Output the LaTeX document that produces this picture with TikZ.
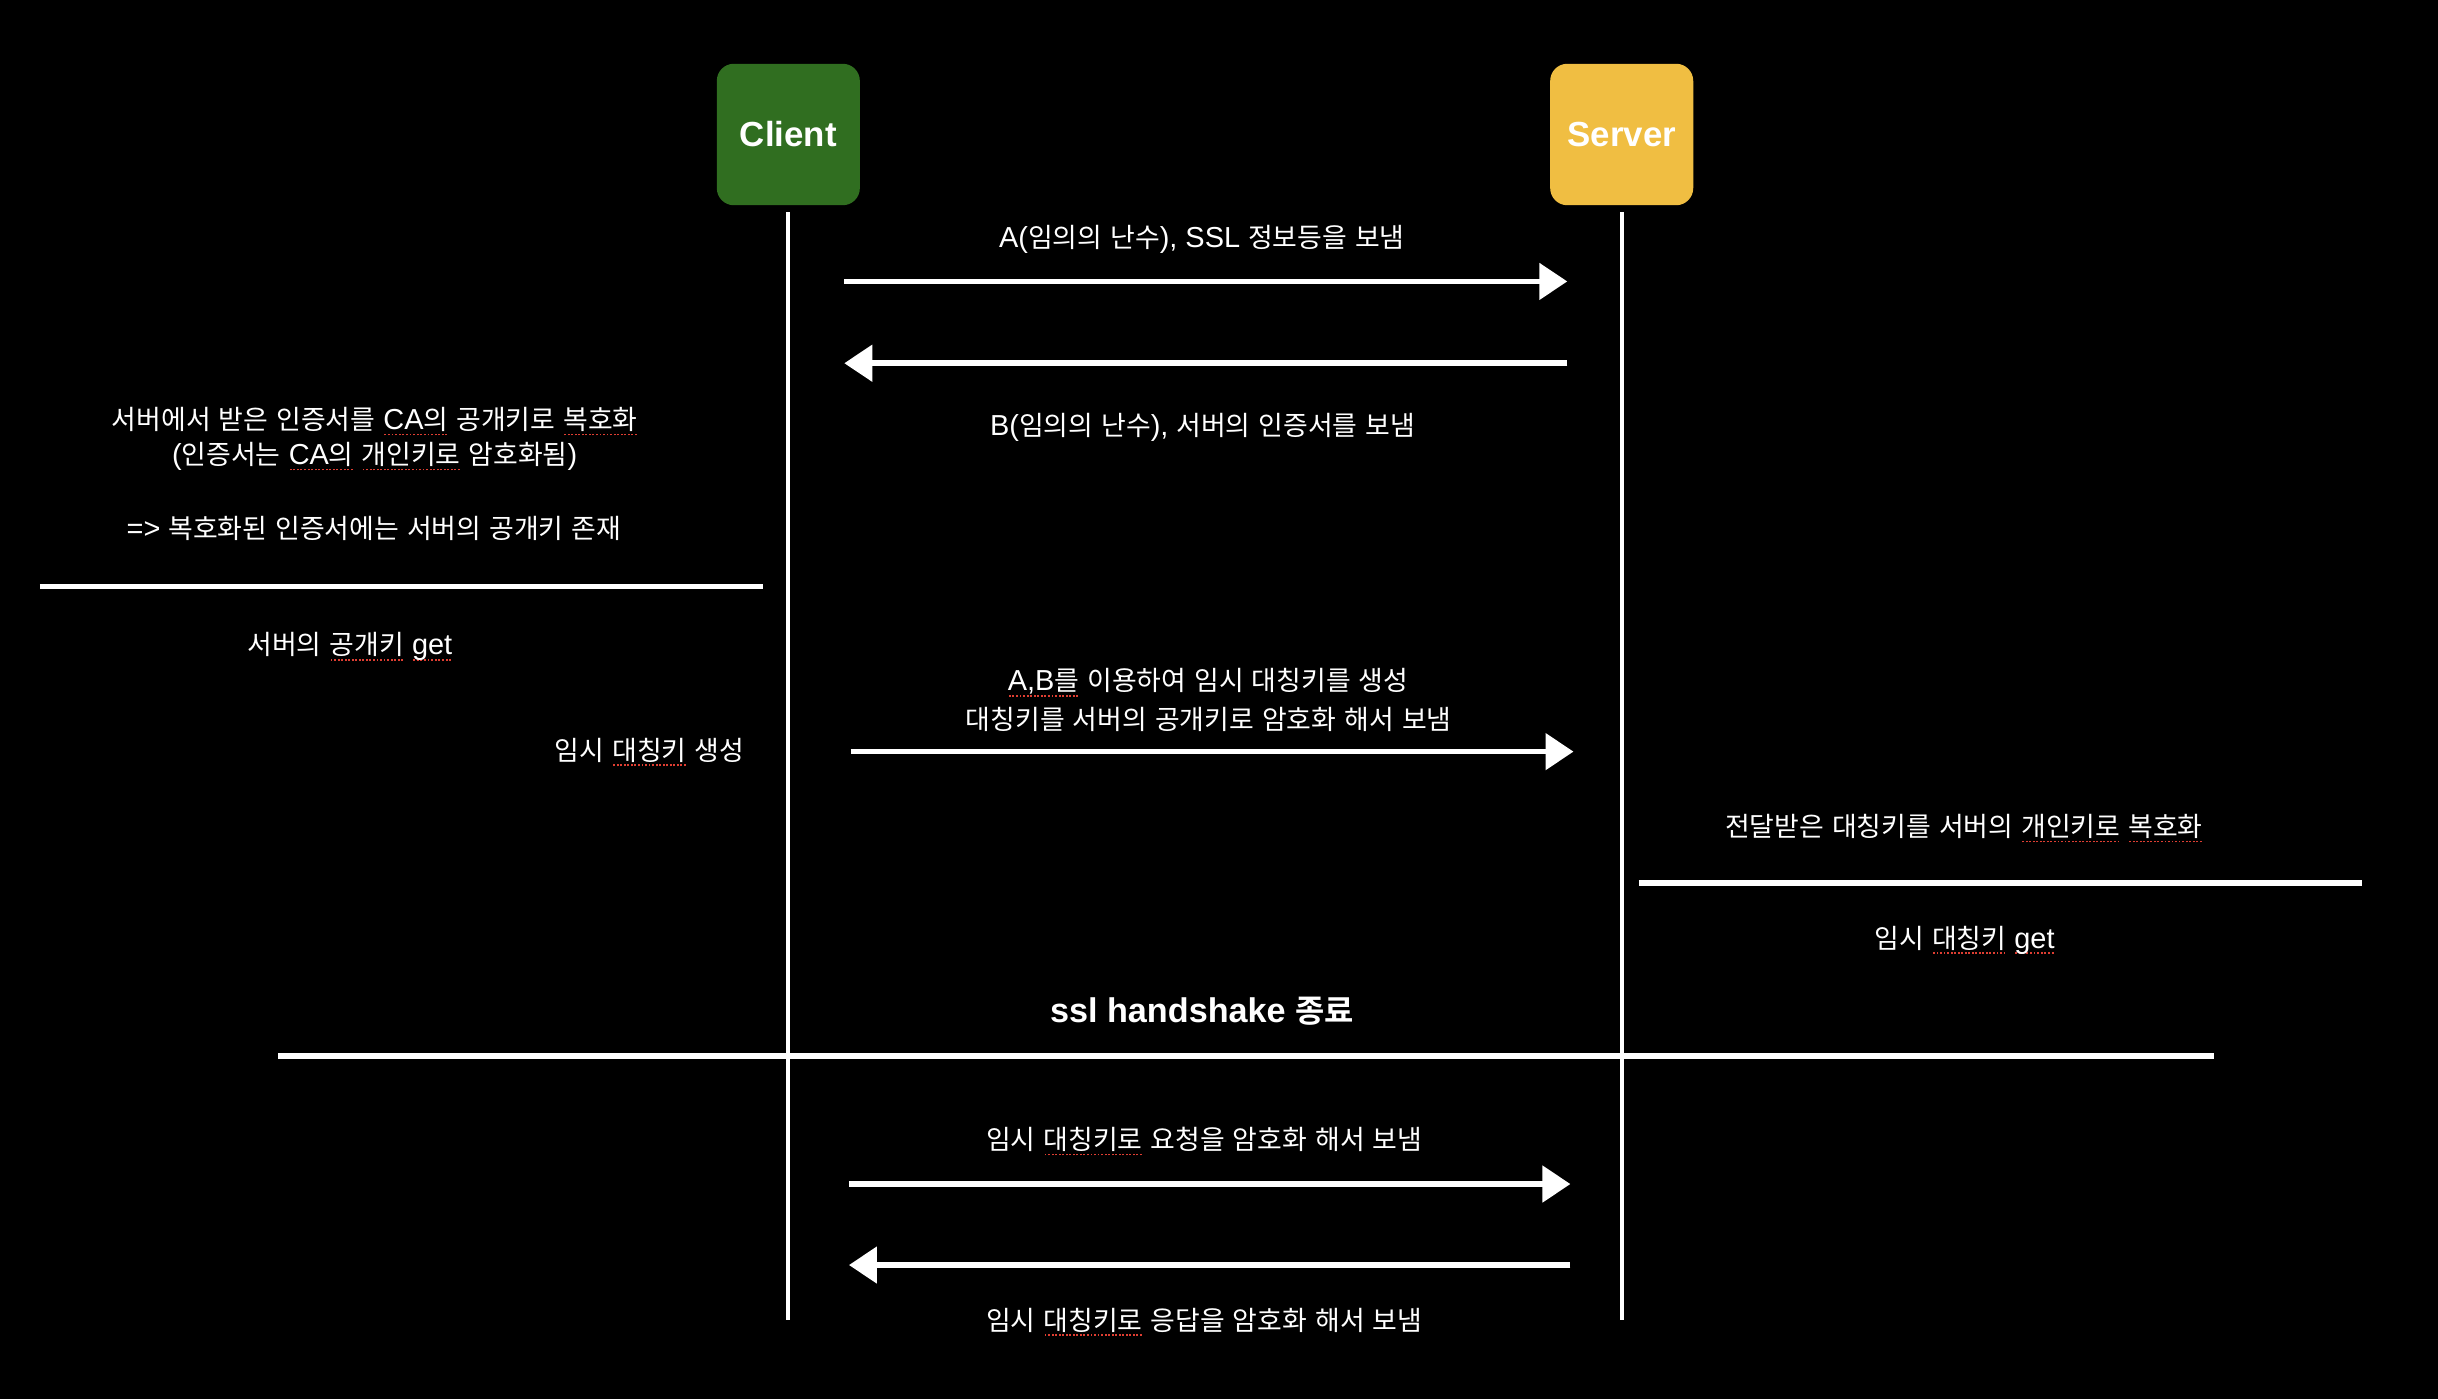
\documentclass[tikz,border=0pt]{standalone}
\usepackage{fontspec}
\setmainfont{Liberation Sans}
\newfontfamily\krfont[Scale=0.93,BoldFont={Noto Sans CJK KR Bold}]{Noto Sans CJK KR}
\newfontfamily\latfont{Liberation Sans}
\usetikzlibrary{arrows.meta}
\definecolor{clientgreen}{RGB}{48,110,32}
\definecolor{serveryellow}{RGB}{240,190,66}
\definecolor{sqred}{RGB}{222,62,50}
% Hangul syllables in Noto Sans CJK KR, everything else in Liberation Sans
\XeTeXinterchartokenstate=1
\newcount\hgc
\hgc="AC00
\loop
  \XeTeXcharclass\hgc=7
  \ifnum\hgc<"D7A3 \advance\hgc by 1
\repeat
\XeTeXinterchartoks 0 7 = {\krfont}
\XeTeXinterchartoks 4095 7 = {\krfont}
\XeTeXinterchartoks 7 0 = {\latfont}
\XeTeXinterchartoks 7 4095 = {\latfont}
% red dotted spell-check underline
\newcommand\sqg[1]{\leavevmode\setbox0=\hbox{#1}\rlap{\raisebox{-1.8pt}[0pt][0pt]{\color{sqred}\hbox to \wd0{\xleaders\hbox to 1.1pt{\hss\rule{0.6pt}{0.6pt}\hss}\hfill}}}\box0\relax}
\begin{document}
\begin{tikzpicture}[x=0.5pt,y=-0.5pt,
  lbl/.style={text=white, font=\fontsize{9.3pt}{11pt}\selectfont, inner sep=0pt},
  boldlbl/.style={text=white, font=\fontsize{11pt}{13pt}\selectfont\bfseries, inner sep=0pt},
  actor/.style={rounded corners=5.5pt, minimum width=46pt, minimum height=45.5pt, text=white,
    font=\fontsize{11.2pt}{13pt}\selectfont\bfseries, inner sep=0pt},
  life/.style={white, line width=1.3pt},
  sepline/.style={white, line width=1.8pt},
  msg/.style={white, line width=1.8pt, -{Triangle[length=9pt,width=11.5pt]}}]
\fill[black] (0,0) rectangle (1568,900);
\useasboundingbox (0,0) rectangle (1568,900);

% actors and lifelines
\node[actor, fill=clientgreen] (client) at (507,86.5) {Client};
\node[actor, fill=serveryellow] (server) at (1043,86.5) {Server};
\coordinate (cbot) at (507,849);
\coordinate (sbot) at (1043,849);

% separators
\coordinate (s1a) at (25.6,377.3);  \coordinate (s1b) at (491,377.3);
\coordinate (s2a) at (1054,567.7);  \coordinate (s2b) at (1519,567.7);
\coordinate (s3a) at (179,679);     \coordinate (s3b) at (1424,679);
\draw[sepline] (s1a) -- (s1b);
\draw[sepline] (s2a) -- (s2b);
\draw[sepline] (s3a) -- (s3b);

\draw[life] ([yshift=-2pt]client.south) -- (cbot);
\draw[life] ([yshift=-2pt]server.south) -- (sbot);

% messages
\coordinate (m1a) at (543,181);    \coordinate (m1b) at (1008,181);
\coordinate (m2a) at (1008,233.6); \coordinate (m2b) at (543,233.6);
\coordinate (m3a) at (547,483.4);  \coordinate (m3b) at (1012,483.4);
\coordinate (m4a) at (546,761.5);  \coordinate (m4b) at (1010,761.5);
\coordinate (m5a) at (1010,813.6); \coordinate (m5b) at (546,813.6);
\draw[msg] (m1a) -- (m1b);
\draw[msg] (m2a) -- (m2b);
\draw[msg] (m3a) -- (m3b);
\draw[msg] (m4a) -- (m4b);
\draw[msg] (m5a) -- (m5b);

% message labels
\node[lbl] (l1) at (773,153.8) {A(임의의 난수), SSL 정보등을 보냄};
\node[lbl] (l2) at (773.5,275) {B(임의의 난수), 서버의 인증서를 보냄};
\node[lbl] (l3a) at (777,438.4) {\sqg{A,B를} 이용하여 임시 대칭키를 생성};
\node[lbl] (l3b) at (777.4,463) {대칭키를 서버의 공개키로 암호화 해서 보냄};
\node[lbl] (l4) at (774.5,733) {임시 \sqg{대칭키로} 요청을 암호화 해서 보냄};
\node[lbl] (l5) at (774.5,849) {임시 \sqg{대칭키로} 응답을 암호화 해서 보냄};

% client side notes
\node[lbl] (c1) at (241,270) {서버에서 받은 인증서를 \sqg{CA의} 공개키로 \sqg{복호화}};
\node[lbl] (c2) at (241,293.7) {(인증서는 \sqg{CA의} \sqg{개인키로} 암호화됨)};
\node[lbl] (c3) at (240.5,339.6) {=> 복호화된 인증서에는 서버의 공개키 존재};
\node[lbl] (c4) at (225,416) {서버의 \sqg{공개키} \sqg{get}};
\node[lbl, anchor=east] (c5) at (479,482.8) {임시 \sqg{대칭키} 생성};

% server side notes
\node[lbl] (r1) at (1263,531.7) {전달받은 대칭키를 서버의 \sqg{개인키로} \sqg{복호화}};
\node[lbl] (r2) at (1263.5,604.6) {임시 \sqg{대칭키} \sqg{get}};

% end of handshake
\node[boldlbl] (hs) at (773,650.6) {ssl handshake 종료};
\end{tikzpicture}
\end{document}
